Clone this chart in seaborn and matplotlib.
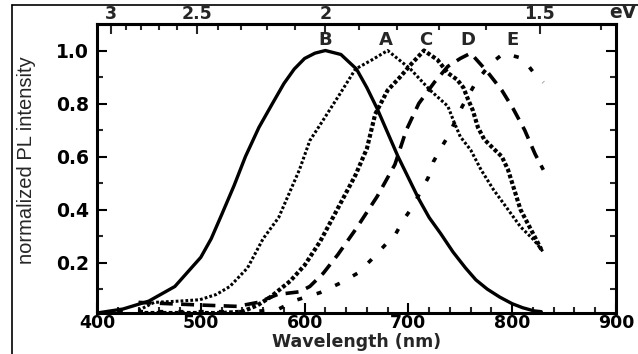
import numpy as np
import pandas as pd
import matplotlib
matplotlib.use("Agg")
import matplotlib.pyplot as plt
import seaborn as sns
from matplotlib.lines import Line2D
from matplotlib.ticker import MultipleLocator, FixedLocator

# ---- data ----
B_x = [400, 425, 450, 475, 500, 510, 520, 532, 543, 556, 569, 580, 590, 600, 610, 620, 635, 650, 660, 670, 680, 690, 700, 710, 720, 731, 743, 755, 765, 776, 788, 800, 810, 821, 828]
B_y = [0.01, 0.025, 0.055, 0.11, 0.22, 0.29, 0.38, 0.49, 0.60, 0.71, 0.80, 0.875, 0.93, 0.97, 0.99, 1.0, 0.985, 0.93, 0.86, 0.78, 0.69, 0.60, 0.52, 0.44, 0.37, 0.31, 0.24, 0.18, 0.135, 0.10, 0.07, 0.045, 0.03, 0.018, 0.015]

A_x = [440, 455, 480, 499, 515, 528, 545, 560, 575, 585, 595, 605, 615, 633, 649, 665, 680, 702, 721, 738, 744, 750, 760, 770, 782, 796, 808, 821, 830]
A_y = [0.02, 0.05, 0.055, 0.06, 0.08, 0.11, 0.18, 0.29, 0.37, 0.46, 0.55, 0.66, 0.72, 0.83, 0.93, 0.965, 1.0, 0.93, 0.85, 0.79, 0.73, 0.675, 0.625, 0.55, 0.475, 0.40, 0.335, 0.285, 0.24]

C_x = [440, 480, 520, 540, 555, 567, 586, 600, 615, 630, 649, 660, 668, 680, 692, 703, 715, 728, 738, 747, 753, 757, 762, 767, 773, 782, 790, 796, 802, 808, 818, 828]
C_y = [0.01, 0.01, 0.01, 0.015, 0.04, 0.07, 0.13, 0.19, 0.28, 0.39, 0.53, 0.63, 0.76, 0.85, 0.90, 0.95, 1.0, 0.965, 0.915, 0.89, 0.86, 0.82, 0.775, 0.71, 0.665, 0.63, 0.60, 0.55, 0.475, 0.40, 0.325, 0.25]

D_x = [440, 470, 500, 535, 555, 574, 595, 605, 618, 632, 650, 670, 687, 698, 710, 725, 738, 750, 760, 776, 790, 801, 812, 822, 830]
D_y = [0.05, 0.045, 0.04, 0.035, 0.05, 0.08, 0.09, 0.11, 0.16, 0.23, 0.33, 0.45, 0.57, 0.70, 0.80, 0.88, 0.94, 0.97, 0.99, 0.92, 0.85, 0.78, 0.70, 0.61, 0.55]

E_x = [420, 460, 500, 540, 560, 574, 593, 615, 635, 651, 664, 676, 688, 695, 704, 712, 719, 724, 731, 738, 752, 765, 779, 792, 810, 820, 830]
E_y = [0.015, 0.015, 0.015, 0.015, 0.018, 0.023, 0.06, 0.087, 0.124, 0.16, 0.21, 0.26, 0.31, 0.36, 0.41, 0.47, 0.52, 0.58, 0.63, 0.675, 0.79, 0.88, 0.95, 0.99, 0.97, 0.92, 0.88]

labels = ["B", "A", "C", "D", "E"]
label_x = [620, 678, 717, 757, 800]

ev_ticks = [3, 2.5, 2, 1.5]
ev_tick_labels = ["3", "2.5", "2", "1.5"]
x_ticks = [400, 500, 600, 700, 800, 900]
y_ticks = [0.2, 0.4, 0.6, 0.8, 1.0]

sns.set_theme(style="ticks")
plt.rcParams['font.family'] = ['DejaVu Sans']

fig = plt.figure(figsize=(6.38, 3.54), dpi=100)
ax = fig.add_axes([97/638, 1-313/354, (616-97)/638, (313-24)/354])

series = [
    (B_x, B_y, dict(linestyle='-', lw=2.4)),
    (A_x, A_y, dict(dashes=(0.9, 0.7), lw=2.2)),
    (C_x, C_y, dict(dashes=(0.9, 0.55), lw=3.0)),
    (D_x, D_y, dict(dashes=(3.6, 2.3), lw=2.6)),
    (E_x, E_y, dict(dashes=(1.4, 4.2), lw=2.6)),
]
for xs, ys, kw in series:
    df = pd.DataFrame({"wl": xs, "I": ys})
    sns.lineplot(data=df, x="wl", y="I", ax=ax, color='black', **kw)

ax.set_xlim(400, 900)
ax.set_ylim(0.01, 1.1)
ax.set_xticks(x_ticks)
ax.set_xticklabels([str(t) for t in x_ticks], fontweight='bold', fontsize=12.5)
ax.set_yticks(y_ticks)
ax.set_yticklabels([f"{t:.1f}" for t in y_ticks], fontweight='bold', fontsize=13.5)
ax.xaxis.set_minor_locator(MultipleLocator(20))
ax.yaxis.set_minor_locator(FixedLocator([0.1, 0.3, 0.5, 0.7, 0.9]))
ax.tick_params(axis='both', which='major', direction='in', length=7, width=1.5, colors='black')
ax.tick_params(axis='y', which='major', pad=6)
ax.tick_params(axis='x', which='major', pad=0.5)
ax.tick_params(axis='both', which='minor', direction='in', length=4, width=1.5)
ax.tick_params(axis='y', which='both', right=True)
for s in ax.spines.values():
    s.set_linewidth(2.2)
    s.set_color('black')

ax.set_xlabel("Wavelength (nm)", fontsize=12.5, fontweight='bold')
ax.xaxis.set_label_coords(0.5, -0.069)
ax.set_ylabel("normalized PL intensity", fontsize=14.5,
              family=['Liberation Sans Narrow', 'Liberation Sans', 'DejaVu Sans'])
ax.yaxis.set_label_coords(-0.118, 0.53)

sec = ax.secondary_xaxis('top', functions=(lambda x: 1240.0/np.maximum(x, 1e-6),
                                           lambda e: 1240.0/np.maximum(e, 1e-6)))
sec.set_xticks(ev_ticks)
sec.set_xticklabels(ev_tick_labels, fontweight='bold', fontsize=12.5)
sec.xaxis.set_minor_locator(FixedLocator(list(np.round(np.arange(1.4, 3.05, 0.1), 2))))
sec.tick_params(which='major', direction='in', length=7, width=1.5, pad=1)
sec.tick_params(which='minor', direction='in', length=4, width=1.5)
sec.spines['top'].set_linewidth(2.2)

for lab, lx in zip(labels, label_x):
    ax.text(lx, 1.04, lab, ha='center', va='center', fontsize=13, fontweight='bold')

fig.text(623/638, 1-13/354, "eV", ha='center', va='center', fontsize=13.5, fontweight='bold')

# figure frame lines
fig.add_artist(Line2D([12/638, 12/638], [0, 1-5/354], color='black', lw=1.2, transform=fig.transFigure))
fig.add_artist(Line2D([12/638, 1], [1-5/354, 1-5/354], color='black', lw=1.2, transform=fig.transFigure))

fig.savefig("out.png", dpi=100)
